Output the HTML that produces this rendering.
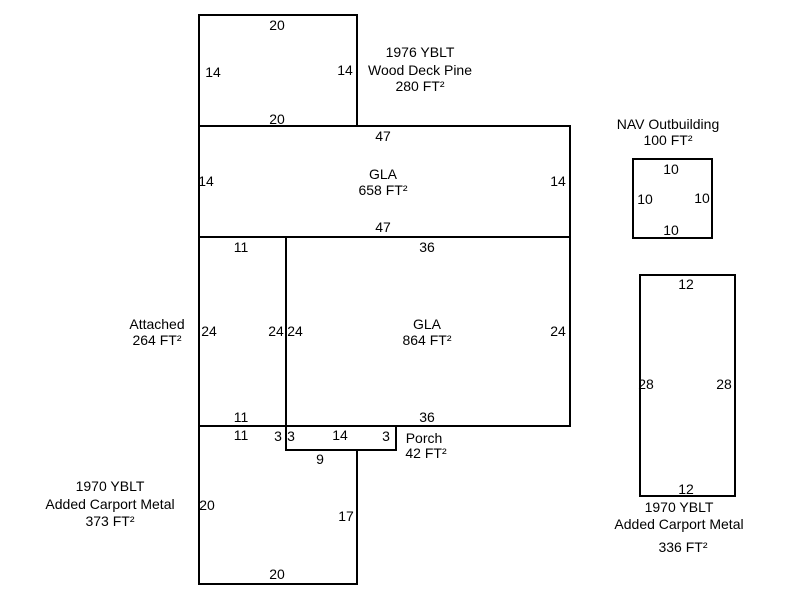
<!DOCTYPE html>
<html><head><style>body{margin:0;background:#fff}svg text{font-family:"Liberation Sans",Arial,sans-serif;font-size:14px;fill:#000}</style></head>
<body>
<svg width="800" height="600" xmlns="http://www.w3.org/2000/svg">
<g fill="none" stroke="#000" stroke-width="2">
<rect x="199" y="15" width="158" height="111"/>
<rect x="199" y="126" width="371" height="111"/>
<rect x="199" y="237" width="87" height="189"/>
<rect x="286" y="237" width="284" height="189"/>
<rect x="286" y="426" width="110" height="24"/>
<polyline points="199,426 199,584 357,584 357,450"/>
<rect x="633" y="159" width="79" height="79"/>
<rect x="640" y="275" width="95" height="221"/>
</g>
<g text-anchor="middle">
<text x="277" y="30">20</text><text x="213" y="77">14</text><text x="345" y="75">14</text><text x="277" y="124">20</text>
<text x="420" y="57">1976 YBLT</text><text x="420" y="75">Wood Deck Pine</text><text x="420" y="91">280 FT²</text>
<text x="383" y="141">47</text><text x="206" y="186">14</text><text x="558" y="186">14</text><text x="383" y="232">47</text>
<text x="383" y="179">GLA</text><text x="383" y="195">658 FT²</text>
<text x="241" y="252">11</text><text x="209" y="336">24</text><text x="276" y="336">24</text><text x="295" y="336">24</text><text x="241" y="422">11</text>
<text x="157" y="329">Attached</text><text x="157" y="345">264 FT²</text>
<text x="427" y="252">36</text><text x="558" y="336">24</text><text x="427" y="422">36</text>
<text x="427" y="329">GLA</text><text x="427" y="345">864 FT²</text>
<text x="241" y="440">11</text><text x="278" y="441">3</text><text x="291" y="441">3</text><text x="340" y="440">14</text><text x="386" y="441">3</text><text x="320" y="464">9</text>
<text x="424" y="443">Porch</text><text x="426" y="458">42 FT²</text>
<text x="207" y="510">20</text><text x="346" y="521">17</text><text x="277" y="579">20</text>
<text x="110" y="491">1970 YBLT</text><text x="110" y="509">Added Carport Metal</text><text x="110" y="526">373 FT²</text>
<text x="668" y="129">NAV Outbuilding</text><text x="668" y="145">100 FT²</text>
<text x="671" y="174">10</text><text x="645" y="204">10</text><text x="702" y="203">10</text><text x="671" y="235">10</text>
<text x="686" y="289">12</text><text x="646" y="389">28</text><text x="724" y="389">28</text><text x="686" y="494">12</text>
<text x="679" y="512">1970 YBLT</text><text x="679" y="529">Added Carport Metal</text><text x="683" y="552">336 FT²</text>
</g>
</svg>
</body></html>
